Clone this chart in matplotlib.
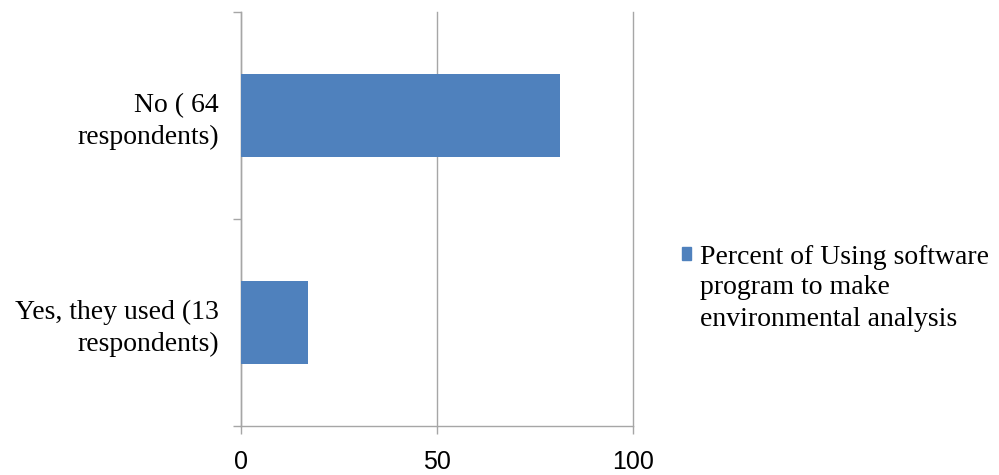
import matplotlib.pyplot as plt
from matplotlib.patches import Patch

# data
categories = ["Yes, they used (13\nrespondents)", "No ( 64\nrespondents)"]
percent = [17.1, 81.4]
series_name = ["Percent of Using software", "program to make", "environmental analysis"]
x_ticks = [0, 50, 100]

bar_color = "#4F81BD"
grid_color = "#A6A6A6"
serif = "Liberation Serif"
fsize = 20

fig = plt.figure(figsize=(9.99, 4.75), dpi=100)
ax = fig.add_axes([0.2412, 0.1032, 0.3924, 0.8715])

ypos = list(range(len(categories)))
ax.barh(ypos, percent, height=0.4, color=bar_color, zorder=3)

ax.set_xlim(0, 100)
ax.set_ylim(-0.5, len(categories) - 0.5)
ax.set_xticks(x_ticks)
ax.set_xticklabels([str(t) for t in x_ticks], family="Liberation Sans", fontsize=18)
ax.set_yticks(ypos)
ax.set_yticklabels(categories, family=serif, fontsize=fsize,
                   ha="right", multialignment="right", linespacing=1.33)
ax.set_yticks([-0.5, 0.5, 1.5], minor=True)
ax.tick_params(axis="y", which="major", length=0, pad=16)
ax.tick_params(axis="y", which="minor", length=6, color=grid_color, width=1)
ax.tick_params(axis="x", length=6, color=grid_color, width=1, pad=11)

ax.grid(axis="x", color=grid_color, linewidth=1, zorder=0)
for gl in ax.get_xgridlines():
    gl.set_clip_on(False)
for side in ["top", "right"]:
    ax.spines[side].set_visible(False)
for side in ["left", "bottom"]:
    ax.spines[side].set_color(grid_color)
    ax.spines[side].set_linewidth(1)

# legend: marker sits beside the first line of the wrapped label
handle = Patch(facecolor=bar_color, edgecolor=bar_color)
leg = fig.legend([handle], [series_name[0]], loc="upper left",
                 bbox_to_anchor=(0.683, 0.485), frameon=False,
                 handlelength=0.33, handleheight=0.33, handletextpad=0.3,
                 borderpad=0, borderaxespad=0, prop={"family": serif, "size": fsize})
fig.canvas.draw()
tb = leg.get_texts()[0].get_window_extent().transformed(fig.transFigure.inverted())
fig.text(tb.x0, tb.y0 - 0.012, "\n".join(series_name[1:]), family=serif,
         fontsize=fsize, ha="left", va="top", linespacing=1.33)

fig.savefig("out.png", dpi=100)
